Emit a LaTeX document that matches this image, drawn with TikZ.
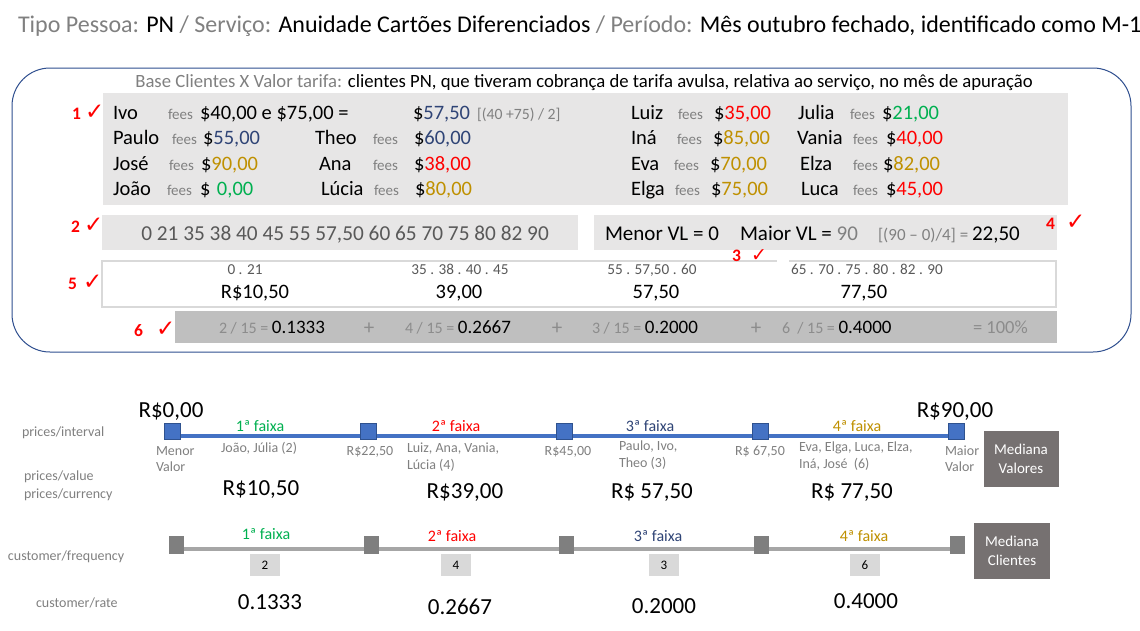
\documentclass[tikz,border=0pt]{standalone}
\usepackage{fontspec}
\setmainfont{Carlito}
\newfontfamily\djv{DejaVu Sans}
\definecolor{tgray}{HTML}{808080}
\definecolor{dgray}{HTML}{595959}
\definecolor{lgray}{HTML}{8C8C8C}
\definecolor{boxfill}{HTML}{E7E6E6}
\definecolor{boxsix}{HTML}{BFBFBF}
\definecolor{bordfive}{HTML}{D9D9D9}
\definecolor{frame}{HTML}{2F4F8F}
\definecolor{navy}{HTML}{2F4476}
\definecolor{gold}{HTML}{BF9000}
\definecolor{grn}{HTML}{00B050}
\definecolor{rd}{HTML}{FF0000}
\definecolor{lblue}{HTML}{4472C4}
\definecolor{lblueb}{HTML}{2F528F}
\definecolor{lineg}{HTML}{A6A6A6}
\definecolor{sqg}{HTML}{7F7F7F}
\definecolor{med}{HTML}{767171}
\definecolor{smb}{HTML}{D9D9D9}
\newcommand\fsz[1]{\fontsize{#1}{#1}\selectfont}
\newcommand\fmain{\fontsize{20.5}{24}\selectfont}
\newcommand\pr[7]{%
  \node[tx,font=\fmain] (#1n) at (#3,#2) {#4};
  \node[tx,font=\fsz{15},text=tgray] (#1f) at (#5,#2) {fees};
  \node[tx,font=\fmain] (#1p) at (#6,#2) {#7};}
\newcommand\lbl[5]{%
  \node[tx,font=\bfseries\fsz{17.5},text=rd] (l#1) at (#2,#3) {#1};
  \node[tx,font=\djv\fsz{#5},text=rd] (c#1) at (#4,#3) {✓};}
\begin{document}
\begin{tikzpicture}[x=1pt,y=-1pt,
  tx/.style={anchor=base west,inner sep=0pt,outer sep=0pt},
  tc/.style={anchor=base,inner sep=0pt,outer sep=0pt},
  gbox/.style={fill=boxfill,draw=none},
  bsq/.style={fill=lblue,draw=lblueb,line width=0.8pt,minimum width=16pt,minimum height=16pt,inner sep=0pt},
  gsq/.style={fill=sqg,draw=none,minimum width=15pt,minimum height=18pt,inner sep=0pt},
  medbox/.style={fill=med,text=white,align=center,inner sep=0pt,font=\fontsize{15}{19}\selectfont},
  smbox/.style={fill=smb,minimum width=30pt,minimum height=22pt,inner sep=0pt,font=\fsz{13}},
  lab/.style={tx,font=\fsz{14},text=tgray},
  small/.style={tx,font=\fontsize{14}{17}\selectfont,text=tgray},
  big/.style={tc,font=\fsz{23}},
  fx/.style={tc,font=\fsz{16}}]
\useasboundingbox (0,0) rectangle (1140,630);
\fill[white] (0,0) rectangle (1140,630);

% title
\node[tx,font=\fsz{24}] (title) at (18,32) {\textcolor{tgray}{Tipo Pessoa:} PN \textcolor{tgray}{/ Serviço:} Anuidade Cartões Diferenciados \textcolor{tgray}{/ Período:} Mês outubro fechado, identificado como M-1};

% frame
\draw[frame,line width=1pt,rounded corners=38pt] (12,68) rectangle (1131,352);
\node[tc,font=\fsz{18.7}] (head) at (584,87) {\textcolor{tgray}{Base Clientes X Valor tarifa:} clientes PN, que tiveram cobrança de tarifa avulsa, relativa ao serviço, no mês de apuração};

% box 1
\fill[gbox] (103,93) rectangle (1068,205);
\pr{a}{119.5}{113}{Ivo}{168}{200}{\$40,00 e \$75,00 =}
\node[tx,font=\fmain] (ivoavg) at (413,119.5) {\$\textcolor{navy}{57,50}};
\node[tx,font=\fsz{15.7},text=tgray] (ivocalc) at (477,119.5) {[(40 +75) / 2]};
\pr{b}{144.5}{113}{Paulo}{172}{203}{\$\textcolor{navy}{55,00}}
\pr{c}{144.5}{315}{Theo}{373}{414}{\$\textcolor{navy}{60,00}}
\pr{d}{170.5}{113}{José}{169}{201}{\$\textcolor{gold}{90,00}}
\pr{e}{170.5}{319}{Ana}{373}{414}{\$\textcolor{rd}{38,00}}
\pr{f}{195.5}{113}{João}{167}{200}{\$\hspace{6.6pt}\textcolor{grn}{0,00}}
\pr{g}{195.5}{321}{Lúcia}{374}{415}{\$\textcolor{gold}{80,00}}
\pr{h}{119.5}{631}{Luiz}{678}{714}{\$\textcolor{rd}{35,00}}
\pr{i}{119.5}{798}{Julia}{850}{882}{\$\textcolor{grn}{21,00}}
\pr{j}{144.5}{631}{Iná}{677}{713}{\$\textcolor{gold}{85,00}}
\pr{k}{144.5}{797}{Vania}{853}{886}{\$\textcolor{rd}{40,00}}
\pr{l}{170.5}{631}{Eva}{674}{710}{\$\textcolor{gold}{70,00}}
\pr{m}{170.5}{800}{Elza}{853}{883}{\$\textcolor{gold}{82,00}}
\pr{n}{195.5}{631}{Elga}{675}{711}{\$\textcolor{gold}{75,00}}
\pr{o}{195.5}{801}{Luca}{853}{886}{\$\textcolor{rd}{45,00}}

% box 2
\fill[gbox] (102,215) rectangle (578,250);
\node[tc,font=\fsz{21.3},text=dgray] (vals) at (345,240) {0 21 35 38 40 45 55 57,50 60 65 70 75 80 82 90};

% box 4
\fill[gbox] (594,215) rectangle (1057,250);
\node[tx,font=\fsz{21}] (menor) at (605,240) {Menor VL = 0};
\node[tx,font=\fsz{21}] (maior) at (740,240) {Maior VL = \textcolor{tgray}{90}};
\node[tx,font=\fsz{17},text=tgray] (calc) at (878,240) {[(90 – 0)/4] =};
\node[tx,font=\fsz{21}] (res) at (972,240) {22,50};

% box 5
\draw[bordfive,line width=2pt,fill=white] (102,261) rectangle (1056,307);
\fill[white] (777,258) rectangle (789,264);
\node[tc,font=\fsz{15.2},text=dgray] (g1) at (245,274.5) {0 . 21};
\node[tc,font=\fsz{15.2},text=dgray] (g2) at (460,274.5) {35 . 38 . 40 . 45};
\node[tc,font=\fsz{15.2},text=dgray] (g3) at (652,274.5) {55 . 57,50 . 60};
\node[tc,font=\fsz{15.2},text=dgray] (g4) at (867,274.5) {65 . 70 . 75 . 80 . 82 . 90};
\node[tc,font=\fsz{20.5}] (m1) at (255,298.5) {R\$10,50};
\node[tc,font=\fsz{20.5}] (m2) at (459,298.5) {39,00};
\node[tc,font=\fsz{20.5}] (m3) at (656,298.5) {57,50};
\node[tc,font=\fsz{20.5}] (m4) at (864,298.5) {77,50};

% box 6
\fill[boxsix] (175,311) rectangle (1057,343);
\node[tx,font=\fsz{19}] (q1) at (219,333) {{\color{lgray}\fsz{16}2 / 15 = }0.1333};
\node[tx,font=\fsz{19}] (q2) at (405,333) {{\color{lgray}\fsz{16}4 / 15 = }0.2667};
\node[tx,font=\fsz{19}] (q3) at (592,333) {{\color{lgray}\fsz{16}3 / 15 = }0.2000};
\node[tx,font=\fsz{19}] (q4) at (782,333) {{\color{lgray}\fsz{16}6 \ / 15 = }0.4000};
\node[tc,font=\fsz{21},text=lgray] (p1) at (369,334) {+};
\node[tc,font=\fsz{21},text=lgray] (p2) at (557,334) {+};
\node[tc,font=\fsz{21},text=lgray] (p3) at (756,334) {+};
\node[tx,font=\fsz{18.5},text=lgray] (tot) at (973,333) {= 100\%};

% labels
\lbl{1}{72}{119}{85}{23}
\lbl{2}{71}{232}{84}{23}
\lbl{4}{1046}{229}{1066}{23}
\lbl{3}{732}{261}{751}{19}
\lbl{5}{68}{289}{83}{23}
\lbl{6}{134}{336}{156}{23}

% ===== bottom: prices
\node[lab] (lpi) at (22,436.5) {prices/interval};
\node[lab] (lpv) at (24,480) {prices/value};
\node[lab] (lpc) at (24,498.5) {prices/currency};
\node[lab] (lcf) at (8,560.5) {customer/frequency};
\node[lab] (lcr) at (36,607.5) {customer/rate};

\coordinate (bl0) at (172,436);
\coordinate (bl4) at (956,436);
\draw[lblue,line width=4.5pt] (bl0) -- (bl4);
\node[bsq] (b0) at (172,431) {};
\node[bsq] (b1) at (368,431) {};
\node[bsq] (b2) at (564,431) {};
\node[bsq] (b3) at (760,431) {};
\node[bsq] (b4) at (956,431) {};

\node[big] (r0) at (171,417) {R\$0,00};
\node[big] (r90) at (955,417) {R\$90,00};
\node[fx,text=grn] (fa1) at (260,431) {1ª faixa};
\node[fx,text=rd] (fa2) at (456,431) {2ª faixa};
\node[fx,text=navy] (fa3) at (650,431) {3ª faixa};
\node[fx,text=gold] (fa4) at (857,431) {4ª faixa};

\node[small] (mnv) at (156,455.5) {Menor};
\node[small] (mnv2) at (156,471) {Valor};
\node[small] (n1) at (221,452.5) {João, Júlia (2)};
\node[tc,font=\fsz{14},text=tgray] (v1) at (370,455.5) {R\$22,50};
\node[small] (n2) at (407,452.5) {Luiz, Ana, Vania,};
\node[small] (n2b) at (407,469) {Lúcia (4)};
\node[tc,font=\fsz{14},text=tgray] (v2) at (568,455.5) {R\$45,00};
\node[small] (n3) at (619,450.5) {Paulo, Ivo,};
\node[small] (n3b) at (619,467) {Theo (3)};
\node[tc,font=\fsz{14},text=tgray] (v3) at (760,455.5) {R\$ 67,50};
\node[small] (n4) at (799,451.5) {Eva, Elga, Luca, Elza,};
\node[small] (n4b) at (799,468) {Iná, José \ (6)};
\node[small] (mxv) at (945,455.5) {Maior};
\node[small] (mxv2) at (945,471) {Valor};
\node[medbox,minimum width=75pt,minimum height=56pt] (mv) at (1021,459) {Mediana\\Valores};

\node[big] (pv1) at (261,495.5) {R\$10,50};
\node[big] (pv2) at (465,498.5) {R\$39,00};
\node[big] (pv3) at (652,498.5) {R\$ 57,50};
\node[big] (pv4) at (852,498.5) {R\$ 77,50};

% ===== bottom: customers
\coordinate (gl0) at (176,549);
\coordinate (gl4) at (957,549);
\draw[lineg,line width=4pt] (gl0) -- (gl4);
\node[gsq] (s0) at (176,545) {};
\node[gsq] (s1) at (371,545) {};
\node[gsq] (s2) at (566,545) {};
\node[gsq] (s3) at (761,545) {};
\node[gsq] (s4) at (957,545) {};
\node[fx,text=grn] (fc1) at (266,539) {1ª faixa};
\node[fx,text=rd] (fc2) at (452,541) {2ª faixa};
\node[fx,text=navy] (fc3) at (658,541) {3ª faixa};
\node[fx,text=gold] (fc4) at (864,541) {4ª faixa};
\node[smbox] (k1) at (265,565) {2};
\node[smbox] (k2) at (456,565) {4};
\node[smbox] (k3) at (664,565) {3};
\node[smbox] (k4) at (865,565) {6};
\node[medbox,minimum width=76pt,minimum height=56pt] (mc) at (1012,551) {Mediana\\Clientes};
\node[big] (cr1) at (270,609) {0.1333};
\node[big] (cr2) at (460,614) {0.2667};
\node[big] (cr3) at (664,613) {0.2000};
\node[big] (cr4) at (866,608) {0.4000};
\end{tikzpicture}
\end{document}
